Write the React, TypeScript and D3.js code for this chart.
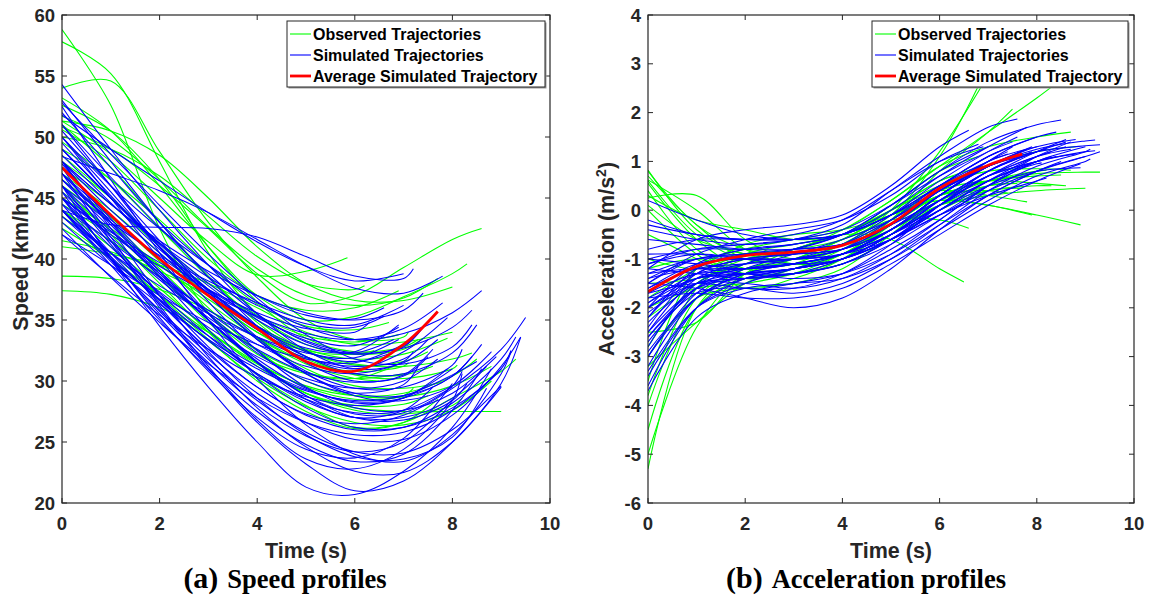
import React from 'react';
import * as d3 from 'd3';

// Each row: [endTime, v(t=0), v(t=1), ..., v(endTime)] — last value sits at endTime
const speedObserved: number[][] = [
  [6.8, 58.8, 52.6, 42.5, 35.6, 32.2, 30.6, 30.2, 31.2],
  [7.4, 57.8, 55.2, 48, 40.5, 35.5, 33, 32.2, 32.6, 33.5],
  [7.1, 54, 54.6, 48.8, 43, 38.5, 35, 33.4, 33.6, 34],
  [5.85, 51.3, 48.6, 45, 41.4, 38.7, 39, 40.1],
  [8.6, 50.8, 49, 46, 42.5, 38.8, 36.4, 37, 39.3, 41.6, 42.5],
  [8.3, 53.2, 50.5, 46, 41, 37, 35, 35.3, 36.9, 38.8, 39.6],
  [7.7, 51.7, 49.8, 46.5, 42.6, 39.2, 37, 36.2, 36.8, 38.4],
  [8.0, 51.3, 50.5, 48.5, 45, 41, 38, 36.6, 36.6, 37.7],
  [6.9, 50.6, 48, 44, 40, 37, 35.8, 36, 37.4],
  [9.0, 44, 41.5, 38.5, 35, 31.5, 29, 27.8, 27.5, 27.5, 27.5],
  [9.3, 46, 42, 38, 34, 30.5, 28, 26.2, 26.6, 28.6, 30.8, 31.8],
  [7.5, 41.5, 40.6, 39, 37, 34.5, 32.4, 31.3, 31.6, 32.4],
  [8.0, 41, 40.4, 39.5, 38, 36, 34, 33, 33.2, 34],
  [6.5, 38.6, 38.4, 37.5, 35.8, 33.5, 31.4, 30.2, 30],
  [7.2, 37.4, 37.1, 36, 34, 31.5, 29.5, 28.5, 28.8, 29.4],
  [7.8, 48.5, 45, 41, 37, 33.5, 31, 29.6, 29.4, 29.9],
  [6.4, 47, 44, 40.5, 37, 34, 32.5, 32.2, 32.5],
  [8.4, 49.6, 46.5, 42.5, 38.5, 35, 32.5, 31.4, 31.2, 31.8, 32.3],
  [7.0, 46, 43, 39.2, 35.5, 32.5, 30.7, 30.2, 30.6],
  [8.2, 45.5, 42.3, 38.6, 34.8, 31.5, 29, 27.6, 27.3, 28, 28.6],
  [6.7, 49, 46.5, 43.2, 39.5, 36.3, 34.5, 34.2, 34.8],
  [7.6, 44.5, 42, 39.5, 36.7, 34, 31.8, 30.6, 30.5, 31.2],
  [8.8, 43, 40, 36.6, 33.3, 30.2, 27.9, 26.6, 26.4, 27.6, 30],
  [7.3, 52.6, 50.5, 46.5, 41, 36.5, 33.5, 32.4, 32.8, 33.4],
  [6.2, 50, 49, 46.8, 43.5, 40.2, 38, 37.5, 37.8],
  [7.9, 47.5, 44.5, 41, 37.5, 34.5, 32.6, 31.8, 32.2, 33.5],
  [8.5, 42.5, 40, 37, 34, 31.4, 29.6, 28.8, 29, 30.4, 31.8],
  [7.1, 45, 42.5, 39.5, 36.4, 33.6, 31.6, 30.8, 31.2, 31.5],
  [6.9, 48, 45, 41.3, 38, 35.4, 33.7, 33.2, 33.8],
  [8.1, 51, 47.5, 43, 38.6, 34.8, 32, 30.5, 30.2, 31, 31.3],
  [7.5, 44, 41, 37.6, 34.2, 31.2, 29, 28, 28.1, 28.8],
  [8.8, 46.5, 43.4, 39.8, 36, 32.5, 30, 28.8, 28.7, 29.6, 31.2],
  [7.7, 43.5, 40.5, 37, 33.4, 30, 27.5, 26.1, 26.6, 28.5],
];

const speedSimulated: number[][] = [
  [7.9, 47, 43.5, 40, 37, 34.2, 32, 31, 32.4, 35.2],
  [8.5, 49, 45, 41, 37.5, 34.5, 32, 30.6, 30.6, 32.3, 34.6],
  [6.6, 50, 46, 42.5, 39.5, 37, 35.4, 35.1, 36],
  [7.4, 48, 44.5, 41.5, 39, 37, 35.6, 35, 35.8, 37.2],
  [7.0, 46, 43, 40.3, 38.2, 36.4, 35, 34.6, 36.2],
  [8.6, 52, 47.5, 43, 39.5, 36.5, 34.4, 33.4, 33.9, 35.6, 37.4],
  [7.8, 45, 42, 39.4, 37.2, 35.3, 33.9, 33.4, 34.3, 36.4],
  [8.4, 49, 45, 41.3, 38, 35.3, 33.3, 32.3, 32.7, 34.4, 35.8],
  [9.5, 46, 41.5, 37, 32.8, 29.5, 27.3, 26.5, 27.2, 29.4, 32.6, 35.2],
  [9.4, 47, 41.5, 36, 31, 26.6, 23.2, 21, 21.8, 25, 29.8, 33.6],
  [8.8, 46, 40, 34.5, 29.5, 25, 21.3, 20.7, 22.6, 26.2, 31],
  [9.0, 48, 42.5, 37, 32, 27.8, 24.6, 22.6, 22.5, 25, 29.5],
  [8.6, 44, 39.5, 35, 31, 27.5, 24.8, 23.4, 24, 27.6, 31],
  [8.0, 45, 40, 35.5, 31.5, 28, 25.5, 24.2, 25, 28.5],
  [7.6, 50, 45, 40, 35.5, 31.5, 28.5, 27, 27.6, 29.5],
  [7.3, 47, 43, 39, 35.5, 32.3, 30, 29, 29.7, 31.2],
  [8.5, 43, 39.5, 36.3, 33.4, 31, 29.2, 28.4, 28.8, 30.5, 31.6],
  [6.9, 48, 44, 40.5, 37.2, 34.5, 32.7, 32.4, 34.6],
  [7.2, 46, 42.3, 38.8, 35.6, 33, 31.2, 30.6, 31.6, 32.4],
  [7.7, 44, 40.5, 37.3, 34.4, 32, 30.2, 29.4, 30, 31.8],
  [8.9, 51, 46, 41, 36.5, 32.5, 29.5, 27.8, 27.6, 29, 32],
  [9.2, 48, 43, 38.5, 34.2, 30.5, 27.8, 26.2, 26.2, 27.8, 31, 32.5],
  [7.0, 42, 39.5, 37, 34.8, 33, 31.8, 31.5, 33],
  [6.3, 45, 42.2, 39.7, 37.5, 35.6, 34.3, 34, 34.8],
  [8.2, 50, 45.5, 41, 37, 33.4, 30.8, 29.4, 29.5, 31.3, 32.6],
  [8.7, 45, 41, 37.2, 33.7, 30.6, 28.3, 27, 27, 28.6, 31.2],
  [7.5, 53, 48, 43, 38.5, 34.5, 31.5, 30, 30.4, 32],
  [7.9, 46.5, 42.5, 38.6, 35, 31.8, 29.4, 28.2, 28.6, 31],
  [9.0, 44.5, 40, 35.7, 31.8, 28.4, 25.8, 24.2, 24.1, 26, 29.6],
  [6.8, 49, 45, 41.2, 37.8, 35, 33, 32.3, 33.4],
  [7.0, 51.8, 49, 46.4, 43.8, 41.4, 39.4, 38.2, 38.8],
  [7.8, 48.4, 47, 45.6, 43.8, 41.6, 39.4, 37.6, 37.2, 38.6],
  [7.2, 44, 42.8, 42.6, 42.5, 41.8, 40.2, 38.6, 38.4, 39.2],
  [8.0, 44, 40.2, 36.6, 33.3, 30.6, 28.5, 27.4, 27.6, 29.5],
  [8.3, 47, 42.8, 38.8, 35, 31.6, 28.8, 27, 26.8, 28.4, 29.8],
  [9.0, 42.5, 38.5, 34.8, 31.4, 28.6, 26.6, 25.6, 25.8, 27.6, 31],
  [7.6, 45.5, 41.8, 38.3, 35.2, 32.6, 30.7, 29.9, 30.5, 32.6],
  [8.8, 50.5, 46, 41.5, 37.3, 33.6, 30.6, 28.8, 28.4, 29.6, 32.4],
  [7.4, 48.5, 44.6, 40.8, 37.4, 34.4, 32.4, 31.6, 32.8, 34.4],
  [8.4, 43.5, 40, 36.7, 33.7, 31.2, 29.3, 28.3, 28.6, 30.4, 32],
  [9.2, 52.5, 46.5, 40.5, 35, 30.2, 26.4, 24, 23.4, 25.6, 30.6, 32.4],
  [6.9, 46.5, 43.2, 40.2, 37.5, 35.2, 33.5, 32.9, 34.4],
  [8.6, 49.5, 45.2, 41, 37, 33.4, 30.6, 29, 28.8, 30.4, 33],
  [7.5, 44.5, 41.4, 38.5, 35.8, 33.6, 31.9, 31.2, 31.8, 33.4],
  [8.2, 47.8, 43.3, 39, 35, 31.5, 28.8, 27.3, 27.4, 29.6, 30.8],
  [9.3, 45, 40.5, 36.4, 32.6, 29.5, 27.2, 26, 26.2, 28.2, 31.8, 33.6],
  [7.3, 51, 46.7, 42.6, 38.8, 35.5, 33.2, 32.2, 32.9, 34],
  [8.0, 42, 38.6, 35.4, 32.6, 30.3, 28.7, 28, 28.6, 31],
  [6.6, 48, 44.5, 41.3, 38.5, 36.2, 34.7, 34.4, 35.3],
  [7.7, 54.3, 49, 44, 39.5, 35.5, 32.5, 31, 31.5, 33.4],
  [8.4, 52.8, 48.6, 44.4, 40.4, 36.8, 33.8, 31.8, 31.4, 32.8, 34.6],
  [9.4, 44, 39.8, 35.8, 32.2, 29, 26.6, 25.2, 25.2, 27.2, 31.2, 33.6],
  [6.9, 43.5, 40.5, 37.8, 35.5, 33.6, 32.3, 31.9, 33.4],
  [8.7, 46, 41.2, 36.6, 32.4, 28.6, 25.6, 23.8, 23.6, 25.4, 29.4],
  [8.2, 47.5, 41.8, 36.2, 31.2, 26.8, 23.6, 22.8, 24.4, 28.4, 30.6],
  [8.0, 45.5, 40.2, 35.2, 30.8, 27, 24.4, 23.7, 25.3, 29.8],
];

const speedAverage: number[] = [7.7, 47.5, 43.6, 40, 37, 34.3, 31.6, 30.8, 33.0, 35.7];

const accelObserved: number[][] = [
  [6.8, 0.82, -0.4, -0.9, -0.8, -0.6, -0.1, 1.1, 2.55],
  [6.9, 0.7, -0.3, -1.0, -1.0, -0.7, 0.0, 1.2, 2.6],
  [7.5, -5.3, -2.0, -1.2, -1.1, -0.9, -0.2, 0.8, 1.6, 2.07],
  [8.4, -1.0, -1.2, -0.9, -0.8, -0.4, 0.2, 0.9, 1.6, 2.3, 2.6],
  [6.5, 0.6, -0.5, -1.0, -0.8, -0.5, -0.6, -1.2, -1.47],
  [8.9, -4.0, -1.8, -1.2, -1.0, -0.6, -0.1, 0.2, 0.1, -0.1, -0.3],
  [7.9, 0.4, -0.8, -1.2, -1.0, -0.6, -0.1, 0.2, 0.1, -0.1],
  [6.6, -5.0, -2.4, -1.3, -1.1, -0.7, -0.2, -0.2, -0.37],
  [9.3, 0.25, 0.3, -0.6, -1.0, -0.8, -0.3, 0.3, 0.6, 0.75, 0.78, 0.78],
  [8.6, -3.8, -1.6, -1.0, -0.9, -0.7, -0.2, 0.4, 0.6, 0.55, 0.5],
  [8.7, -2.5, -2.3, -1.3, -0.8, -0.5, 0.0, 0.5, 0.8, 0.85, 0.82],
  [7.8, -1.5, -1.4, -1.1, -0.8, -0.5, 0.0, 0.4, 0.3, 0.17],
  [8.7, -3.5, -1.2, -0.8, -0.6, -0.4, 0.2, 0.9, 1.3, 1.5, 1.6],
  [7.0, 0.0, -0.9, -1.4, -1.2, -0.8, -0.2, 0.5, 0.9],
  [8.0, -2.0, -1.6, -1.5, -1.3, -0.9, -0.3, 0.3, 0.6, 0.7],
  [7.4, 0.55, -0.6, -1.2, -1.2, -0.9, -0.3, 0.3, 0.4, 0.35],
  [8.2, -3.2, -2.3, -1.5, -1.2, -0.9, -0.4, 0.2, 0.6, 0.8, 0.82],
  [6.3, 0.8, -0.3, -0.8, -0.9, -0.6, 0.0, 0.6, 0.7],
  [7.6, -1.2, -1.0, -1.3, -1.3, -1.0, -0.4, 0.2, 0.5, 0.55],
  [9.0, -2.8, -1.5, -1.1, -1.0, -0.8, -0.4, 0.1, 0.3, 0.4, 0.45],
  [6.8, 0.3, -0.2, -0.4, -0.6, -0.5, 0.1, 0.8, 1.1],
  [8.3, -4.5, -2.0, -1.4, -1.3, -1.1, -0.6, 0.0, 0.4, 0.5, 0.5],
  [7.2, -0.5, -1.0, -1.6, -1.4, -1.0, -0.3, 0.4, 0.9, 1.0],
  [8.5, -1.8, -1.2, -0.7, -0.5, -0.4, -0.1, 0.3, 0.6, 0.7, 0.72],
  [7.7, 0.1, -0.6, -0.9, -1.1, -1.0, -0.5, 0.1, 0.4, 0.45],
  [8.8, -3.0, -1.8, -1.6, -1.5, -1.2, -0.5, 0.3, 0.9, 1.2, 1.3],
  [6.9, -2.2, -1.5, -0.9, -0.7, -0.5, 0.0, 0.6, 0.9],
  [7.3, 0.62, 0.0, -0.8, -1.1, -1.0, -0.5, 0.1, 0.5, 0.55],
];

const accelSimulated: number[][] = [
  [8.5, -1.5, -1.0, -0.9, -0.8, -0.5, 0.1, 0.8, 1.4, 1.75, 1.85],
  [9.3, -2.2, -1.3, -1.0, -0.9, -0.7, -0.2, 0.4, 0.9, 1.2, 1.32, 1.34],
  [9.2, -1.0, -0.8, -0.8, -0.7, -0.5, -0.1, 0.4, 0.9, 1.25, 1.42, 1.44],
  [8.9, -2.8, -1.5, -1.2, -1.1, -0.9, -0.5, 0.0, 0.5, 0.8, 0.87],
  [8.2, -1.8, -1.4, -1.3, -1.2, -1.0, -0.6, -0.1, 0.3, 0.6, 0.66],
  [6.6, -1.2, -0.6, -0.4, -0.3, -0.1, 0.5, 1.3, 1.64],
  [7.6, -0.4, -0.6, -0.7, -0.6, -0.3, 0.4, 1.1, 1.7, 1.87],
  [7.8, -2.0, -1.1, -0.8, -0.7, -0.5, 0.0, 0.7, 1.3, 1.7],
  [8.6, -3.2, -1.8, -1.3, -1.1, -0.9, -0.5, 0.1, 0.7, 1.1, 1.3],
  [7.2, -1.6, -1.2, -1.1, -1.0, -0.8, -0.3, 0.4, 1.0, 1.1],
  [8.0, -2.5, -1.6, -1.4, -1.3, -1.1, -0.6, 0.1, 0.8, 1.2],
  [9.0, -1.3, -1.2, -1.3, -1.4, -1.3, -0.9, -0.3, 0.3, 0.8, 1.1],
  [7.4, -0.9, -0.9, -1.0, -1.0, -0.8, -0.3, 0.4, 1.0, 1.2],
  [8.3, -3.6, -2.0, -1.4, -1.2, -1.0, -0.6, 0.0, 0.6, 1.1, 1.2],
  [8.7, -2.0, -1.5, -1.5, -1.6, -1.4, -0.9, -0.2, 0.5, 1.1, 1.4],
  [7.9, -1.4, -1.0, -0.9, -0.9, -0.8, -0.4, 0.3, 0.9, 1.3],
  [9.1, -2.6, -1.7, -1.6, -1.7, -1.5, -1.0, -0.3, 0.4, 0.9, 1.2, 1.25],
  [6.9, -0.3, -0.5, -0.6, -0.5, -0.2, 0.4, 1.0, 1.3],
  [7.7, -1.9, -1.3, -1.2, -1.1, -0.9, -0.4, 0.3, 0.9, 1.1],
  [8.4, -1.1, -0.9, -1.0, -1.1, -1.0, -0.6, 0.0, 0.6, 1.0, 1.1],
  [8.8, -3.0, -1.7, -1.2, -0.9, -0.6, -0.2, 0.4, 0.9, 1.3, 1.45],
  [7.3, -2.3, -1.5, -1.3, -1.2, -1.0, -0.5, 0.2, 0.8, 0.95],
  [8.1, -1.7, -1.3, -1.3, -1.3, -1.1, -0.6, 0.1, 0.7, 1.0, 1.02],
  [9.2, -0.6, -0.7, -0.8, -0.8, -0.7, -0.3, 0.2, 0.7, 1.0, 1.2, 1.22],
  [7.0, -2.7, -1.6, -1.1, -0.8, -0.5, 0.1, 0.8, 1.3],
  [8.5, -1.5, -1.6, -1.8, -2.0, -1.8, -1.2, -0.4, 0.3, 0.8, 1.0],
  [7.5, -3.4, -2.0, -1.5, -1.2, -0.9, -0.4, 0.3, 1.0, 1.3],
  [8.0, -0.2, -0.5, -0.6, -0.6, -0.5, -0.1, 0.5, 1.1, 1.5],
  [9.0, -2.1, -1.5, -1.4, -1.3, -1.1, -0.7, -0.1, 0.5, 1.0, 1.3],
  [7.1, -1.3, -1.0, -1.0, -1.0, -0.9, -0.4, 0.3, 0.9, 0.95],
  [8.6, -2.4, -1.3, -1.0, -0.9, -0.8, -0.4, 0.2, 0.8, 1.2, 1.4],
  [7.8, -1.0, -1.1, -1.2, -1.1, -0.9, -0.4, 0.3, 0.9, 1.25],
  [8.3, -3.7, -2.2, -1.7, -1.5, -1.3, -0.8, -0.2, 0.5, 1.0, 1.1],
  [9.3, -1.6, -1.1, -1.0, -1.0, -0.9, -0.6, -0.1, 0.4, 0.8, 1.1, 1.2],
  [7.6, -2.0, -1.4, -1.2, -1.0, -0.7, -0.1, 0.6, 1.2, 1.5],
  [8.9, -1.8, -1.7, -1.8, -1.8, -1.6, -1.1, -0.5, 0.1, 0.6, 0.95],
  [6.8, -1.5, -0.9, -0.6, -0.4, -0.2, 0.3, 1.0, 1.35],
  [8.2, -2.9, -1.8, -1.4, -1.2, -1.0, -0.5, 0.2, 0.8, 1.2, 1.25],
  [8.7, -1.2, -1.3, -1.4, -1.3, -1.0, -0.5, 0.1, 0.7, 1.1, 1.25],
  [7.4, 0.2, -0.2, -0.5, -0.6, -0.5, -0.1, 0.5, 1.0, 1.15],
  [8.0, -2.2, -1.2, -0.9, -0.8, -0.7, -0.3, 0.4, 1.0, 1.3],
  [9.1, -3.3, -2.0, -1.6, -1.5, -1.4, -1.0, -0.4, 0.2, 0.7, 1.0, 1.05],
  [7.9, -1.7, -1.5, -1.6, -1.6, -1.3, -0.7, 0.1, 0.8, 1.2],
  [8.4, -0.8, -0.6, -0.6, -0.6, -0.5, -0.1, 0.5, 1.1, 1.5, 1.6],
  [7.2, -2.5, -1.4, -1.1, -1.0, -0.8, -0.2, 0.5, 1.1, 1.2],
  [8.8, -1.4, -1.2, -1.2, -1.1, -0.9, -0.5, 0.1, 0.6, 1.0, 1.15],
  [7.7, -3.0, -1.8, -1.3, -1.1, -0.9, -0.4, 0.3, 0.9, 1.15],
  [8.6, -1.9, -1.4, -1.3, -1.2, -1.0, -0.5, 0.1, 0.7, 1.2, 1.45],
  [7.5, -1.1, -0.8, -0.7, -0.6, -0.4, 0.1, 0.7, 1.2, 1.4],
  [8.1, -2.6, -1.6, -1.3, -1.2, -1.0, -0.6, 0.0, 0.6, 0.95, 0.97],
];

const accelAverage: number[] = [7.7, -1.67, -1.15, -0.93, -0.86, -0.72, -0.28, 0.45, 0.92, 1.15];

const xTicks = [0, 2, 4, 6, 8, 10];
const speedTicks = [20, 25, 30, 35, 40, 45, 50, 55, 60];
const accelTicks = [-6, -5, -4, -3, -2, -1, 0, 1, 2, 3, 4];
const legendLabels = ['Observed Trajectories', 'Simulated Trajectories', 'Average Simulated Trajectory'];

const GREEN = '#00ff00';
const BLUE = '#0000ff';
const RED = '#ff0000';
const AXIS = '#262626';
const SANS = 'Liberation Sans, Arial, Helvetica, sans-serif';
const SERIF = 'Liberation Serif, Times New Roman, serif';

function toPoints(row: number[]): [number, number][] {
  const end = row[0];
  const vals = row.slice(1);
  return vals.map((v, i) => [i === vals.length - 1 ? end : i, v] as [number, number]);
}

type PanelProps = {
  left: number;
  right: number;
  top: number;
  bottom: number;
  yDomain: [number, number];
  yTicks: number[];
  observed: number[][];
  simulated: number[][];
  average: number[];
  yLabel: React.ReactNode;
  yLabelX: number;
  legendX: number;
  legendW: number;
};

function Panel(p: PanelProps) {
  const x = d3.scaleLinear().domain([0, 10]).range([p.left, p.right]);
  const y = d3.scaleLinear().domain(p.yDomain).range([p.bottom, p.top]);
  const line = d3
    .line<[number, number]>()
    .x((d) => x(d[0]))
    .y((d) => y(d[1]))
    .curve(d3.curveCatmullRom.alpha(0.5));
  const tl = 5;
  const cx = (p.left + p.right) / 2;
  const cy = (p.top + p.bottom) / 2;
  const clipId = `clip-${p.left}`;
  const lx = p.legendX;
  const ly = p.top + 6;
  const lw = p.legendW;
  const lh = 66;
  return (
    <g>
      <defs>
        <clipPath id={clipId}>
          <rect x={p.left} y={p.top} width={p.right - p.left} height={p.bottom - p.top} />
        </clipPath>
      </defs>
      <g clipPath={`url(#${clipId})`}>
        {p.observed.map((r, i) => (
          <path key={'o' + i} d={line(toPoints(r)) || ''} fill="none" stroke={GREEN} strokeWidth={1.1} />
        ))}
        {p.simulated.map((r, i) => (
          <path key={'s' + i} d={line(toPoints(r)) || ''} fill="none" stroke={BLUE} strokeWidth={1.05} />
        ))}
        <path d={line(toPoints(p.average)) || ''} fill="none" stroke={RED} strokeWidth={2.8} />
      </g>
      <rect x={p.left} y={p.top} width={p.right - p.left} height={p.bottom - p.top} fill="none" stroke={AXIS} strokeWidth={1.2} />
      {xTicks.map((t) => (
        <g key={'xt' + t}>
          <line x1={x(t)} x2={x(t)} y1={p.bottom} y2={p.bottom - tl} stroke={AXIS} />
          <line x1={x(t)} x2={x(t)} y1={p.top} y2={p.top + tl} stroke={AXIS} />
          <text x={x(t)} y={p.bottom + 27} textAnchor="middle" fontFamily={SANS} fontWeight="bold" fontSize={18.5} fill={AXIS}>
            {t}
          </text>
        </g>
      ))}
      {p.yTicks.map((t) => (
        <g key={'yt' + t}>
          <line x1={p.left} x2={p.left + tl} y1={y(t)} y2={y(t)} stroke={AXIS} />
          <line x1={p.right} x2={p.right - tl} y1={y(t)} y2={y(t)} stroke={AXIS} />
          <text x={p.left - 7} y={y(t) + 6.5} textAnchor="end" fontFamily={SANS} fontWeight="bold" fontSize={18.5} fill={AXIS}>
            {t}
          </text>
        </g>
      ))}
      <text x={cx} y={p.bottom + 55} textAnchor="middle" fontFamily={SANS} fontWeight="bold" fontSize={21.5} fill={AXIS}>
        Time (s)
      </text>
      <text
        transform={`translate(${p.yLabelX},${cy}) rotate(-90)`}
        textAnchor="middle"
        fontFamily={SANS}
        fontWeight="bold"
        fontSize={21.5}
        fill={AXIS}
      >
        {p.yLabel}
      </text>
      <rect x={lx + 1.5} y={ly + 1.5} width={lw} height={lh} fill="#9a9a9a" />
      <rect x={lx} y={ly} width={lw} height={lh} fill="#ffffff" stroke={AXIS} strokeWidth={1} />
      {legendLabels.map((lab, i) => {
        const yy = ly + 13 + i * 21;
        const col = [GREEN, BLUE, RED][i];
        return (
          <g key={lab}>
            <line x1={lx + 3} x2={lx + 24} y1={yy} y2={yy} stroke={col} strokeWidth={i === 2 ? 2.8 : 1.1} />
            <text x={lx + 26} y={yy + 5.5} fontFamily={SANS} fontWeight="bold" fontSize={16} fill="#000">
              {lab}
            </text>
          </g>
        );
      })}
    </g>
  );
}

export default function App() {
  return (
    <svg
      width={1152}
      height={595}
      style={{ position: 'absolute', left: 0, top: 0, display: 'block', background: '#fff' }}
    >
      <rect x={0} y={0} width={1152} height={595} fill="#fff" />
      <Panel
        left={62}
        right={550}
        top={15}
        bottom={503}
        yDomain={[20, 60]}
        yTicks={speedTicks}
        observed={speedObserved}
        simulated={speedSimulated}
        average={speedAverage}
        yLabel="Speed (km/hr)"
        yLabelX={28}
        legendX={287}
        legendW={258}
      />
      <Panel
        left={648}
        right={1134}
        top={15}
        bottom={503}
        yDomain={[-6, 4]}
        yTicks={accelTicks}
        observed={accelObserved}
        simulated={accelSimulated}
        average={accelAverage}
        yLabel={
          <>
            <tspan>Acceleration (m/s</tspan>
            <tspan dy={-8} fontSize={14}>2</tspan>
            <tspan dy={8}>)</tspan>
          </>
        }
        yLabelX={614}
        legendX={872}
        legendW={256}
      />
      <text x={285} y={588} textAnchor="middle" fontFamily={SERIF} fontWeight="bold" fill="#000">
        <tspan fontSize={30}>(a)</tspan>
        <tspan fontSize={26.5} dx={9}>Speed profiles</tspan>
      </text>
      <text x={866} y={588} textAnchor="middle" fontFamily={SERIF} fontWeight="bold" fill="#000">
        <tspan fontSize={30}>(b)</tspan>
        <tspan fontSize={26.5} dx={9}>Acceleration profiles</tspan>
      </text>
    </svg>
  );
}
